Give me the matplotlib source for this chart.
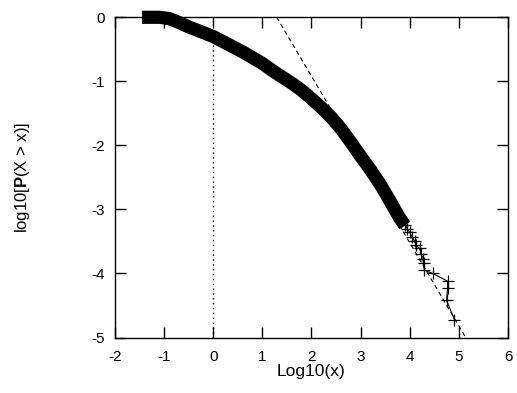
import matplotlib
matplotlib.use("Agg")
import matplotlib.pyplot as plt
import numpy as np

plt.rcParams["font.family"] = ["Liberation Sans", "DejaVu Sans"]
plt.rcParams["mathtext.fontset"] = "custom"
plt.rcParams["mathtext.rm"] = "Liberation Sans"
plt.rcParams["mathtext.bf"] = "Liberation Sans:bold"
plt.rcParams["axes.unicode_minus"] = False

# dense part of the curve
x_dense = [-1.45, -1.3, -1.1, -0.9, -0.7, -0.5, -0.3, -0.1, 0.0, 0.2, 0.4, 0.6,
           0.8, 1.0, 1.2, 1.4, 1.6, 1.8, 2.0, 2.2, 2.4, 2.6, 2.8, 3.0, 3.2,
           3.4, 3.6, 3.8, 3.9]
y_dense = [0.0, 0.0, 0.0, -0.02, -0.08, -0.15, -0.21, -0.27, -0.30, -0.38,
           -0.46, -0.54, -0.63, -0.72, -0.83, -0.93, -1.03, -1.14, -1.27,
           -1.41, -1.56, -1.74, -1.95, -2.17, -2.38, -2.61, -2.87, -3.14,
           -3.25]

# sparse tail points
x_tail = [3.7, 3.75, 3.8, 3.85, 3.9, 3.95, 4.0, 4.05, 4.1, 4.13, 4.2, 4.23,
          4.27, 4.28, 4.30, 4.47, 4.77, 4.77, 4.75, 4.91]
y_tail = [-2.99, -3.06, -3.12, -3.18, -3.24, -3.30, -3.36, -3.43, -3.50,
          -3.56, -3.61, -3.69, -3.77, -3.84, -3.95, -4.00, -4.12, -4.23,
          -4.42, -4.72]

# power-law fit line  y = c - alpha * x
alpha = 1.3
c = 1.68

x_ticks = [-2, -1, 0, 1, 2, 3, 4, 5, 6]
y_ticks = [0, -1, -2, -3, -4, -5]

fig = plt.figure(figsize=(5.17, 3.93), dpi=100)
ax = fig.add_axes([0.2224, 0.1412, 0.7602, 0.8148])

ax.plot(x_dense, y_dense, "-", color="black", lw=9.5, solid_capstyle="butt",
        solid_joinstyle="round", clip_on=False)
ax.plot(x_tail, y_tail, "-", color="black", lw=0.8, marker="+", ms=8,
        mew=0.9)

xf = np.array([c / alpha, (c + 5) / alpha])
ax.plot(xf, c - alpha * xf, color="black", lw=0.8, dashes=(4, 3))

ax.plot([0, 0], [-5, -0.35], color="black", lw=1.0, linestyle=(0, (1, 2.5)))

ax.set_xlim(-2, 6)
ax.set_ylim(-5, 0)
ax.set_xticks(x_ticks)
ax.set_yticks(y_ticks)
ax.tick_params(direction="in", length=8, width=1, top=True, right=True,
               labelsize=11)
ax.tick_params(axis="y", pad=7)
ax.tick_params(axis="x", pad=9)
for s in ax.spines.values():
    s.set_linewidth(1.0)

ax.set_xlabel("Log10(x)", fontsize=12.5, labelpad=0)
ax.set_ylabel(r"log10[$\mathbf{P}$(X > x)]", fontsize=12, labelpad=43)

fig.savefig("out.png", dpi=100)
